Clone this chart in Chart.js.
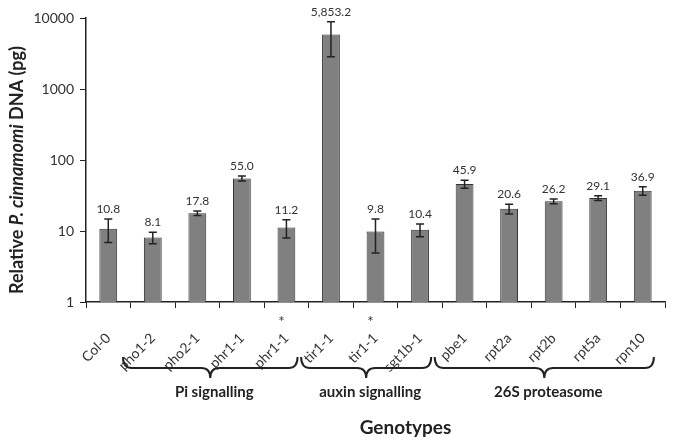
<!DOCTYPE html>
<html>
<head>
<meta charset="utf-8">
<script src="https://cdn.jsdelivr.net/npm/chart.js@4.4.0/dist/chart.umd.min.js"></script>
<style>
  html, body { margin: 0; background: #fff; }
</style>
</head>
<body>
<canvas id="myChart" width="685" height="444"></canvas>
<script>
// data
const genotypes = ['Col-0', 'pho1-2', 'pho2-1', 'phr1-1', 'phr1-1', 'tir1-1', 'tir1-1', 'sgt1b-1', 'pbe1', 'rpt2a', 'rpt2b', 'rpt5a', 'rpn10']
const starred = [false, false, false, false, true, false, true, false, false, false, false, false, false]
const dnaMean = [10.8, 8.1, 17.8, 55.0, 11.2, 5853.2, 9.8, 10.4, 45.9, 20.6, 26.2, 29.1, 36.9]
const dnaErr = [3.9, 1.5, 1.3, 4.5, 3.2, 3000, 4.9, 2.1, 6, 3.3, 2, 2.2, 5]
const yTicks = [1, 10, 100, 1000, 10000]
const groupNames = ['Pi signalling', 'auxin signalling', '26S proteasome']
const groupFirst = [1, 5, 8]
const groupLast = [4, 7, 12]

const FONT = 'Lato, "Open Sans", sans-serif'
const INK = '#222'

function fmt(v) {
  return v.toLocaleString('en-US', { minimumFractionDigits: 1, maximumFractionDigits: 1 })
}

// error bars + value labels
const errorBars = {
  id: 'errorBars',
  afterDatasetsDraw(chart) {
    const { ctx, scales: { y } } = chart
    const meta = chart.getDatasetMeta(0)
    ctx.save()
    ctx.strokeStyle = INK
    ctx.lineWidth = 1.5
    meta.data.forEach((bar, i) => {
      const top = y.getPixelForValue(dnaMean[i] + dnaErr[i])
      const bot = y.getPixelForValue(Math.max(dnaMean[i] - dnaErr[i], 1))
      ctx.beginPath()
      ctx.moveTo(bar.x, top); ctx.lineTo(bar.x, bot)
      ctx.moveTo(bar.x - 4, top); ctx.lineTo(bar.x + 4, top)
      ctx.moveTo(bar.x - 4, bot); ctx.lineTo(bar.x + 4, bot)
      ctx.stroke()
      ctx.fillStyle = '#333'
      ctx.font = '12px ' + FONT
      ctx.textAlign = 'center'
      ctx.textBaseline = 'bottom'
      ctx.fillText(fmt(dnaMean[i]), bar.x, top - 4)
    })
    ctx.restore()
  }
}

// braces, group names, asterisks and axis titles
const annotations = {
  id: 'annotations',
  afterDraw(chart) {
    const { ctx, chartArea, scales: { x } } = chart
    const b = chartArea.bottom
    const w = x.getPixelForValue(1) - x.getPixelForValue(0)
    ctx.save()

    // asterisks
    ctx.fillStyle = '#333'
    ctx.font = '15px ' + FONT
    ctx.textAlign = 'center'
    ctx.textBaseline = 'middle'
    starred.forEach((s, i) => {
      if (s) ctx.fillText('*', x.getPixelForValue(i) - 5, b + 20)
    })

    // braces
    ctx.strokeStyle = INK
    ctx.lineWidth = 2
    const y0 = b + 55, y1 = b + 66, y2 = b + 76, r = 9
    groupNames.forEach((name, g) => {
      const xl = x.getPixelForValue(groupFirst[g]) - 0.67 * w
      const xr = x.getPixelForValue(groupLast[g]) + 0.25 * w
      const xm = (xl + xr) / 2
      ctx.beginPath()
      ctx.moveTo(xl, y0)
      ctx.quadraticCurveTo(xl, y1, xl + r, y1)
      ctx.lineTo(xm - r, y1)
      ctx.quadraticCurveTo(xm, y1, xm, y2)
      ctx.quadraticCurveTo(xm, y1, xm + r, y1)
      ctx.lineTo(xr - r, y1)
      ctx.quadraticCurveTo(xr, y1, xr, y0)
      ctx.stroke()
      ctx.fillStyle = INK
      ctx.font = 'bold 15px ' + FONT
      ctx.fillText(name, xm + 4, b + 90)
    })

    // x title
    ctx.font = 'bold 19px ' + FONT
    ctx.fillText('Genotypes', (chartArea.left + chartArea.right) / 2 + 30, b + 126)

    // y title with italic species name
    const parts = [['Relative ', 'bold'], ['P. cinnamomi', 'italic bold'], [' DNA (pg)', 'bold']]
    ctx.translate(17, (chartArea.top + chartArea.bottom) / 2 + 10)
    ctx.rotate(-Math.PI / 2)
    let total = 0
    parts.forEach(p => { ctx.font = p[1] + ' 18px ' + FONT; total += ctx.measureText(p[0]).width })
    let cx = -total / 2
    ctx.textAlign = 'left'
    parts.forEach(p => {
      ctx.font = p[1] + ' 18px ' + FONT
      ctx.fillText(p[0], cx, 0)
      cx += ctx.measureText(p[0]).width
    })
    ctx.restore()
  }
}

const ctx = document.getElementById('myChart')
// eslint-disable-next-line no-unused-vars
const myChart = new Chart(ctx, {
  type: 'bar',
  data: {
    labels: genotypes,
    datasets: [{
      data: dnaMean,
      backgroundColor: '#808080',
      borderColor: '#333',
      borderWidth: 1,
      barPercentage: 0.4,
      categoryPercentage: 1
    }]
  },
  options: {
    responsive: false,
    animation: false,
    layout: { padding: { top: 18, right: 20, left: 0, bottom: 0 } },
    plugins: {
      legend: { display: false },
      tooltip: { enabled: false }
    },
    scales: {
      x: {
        afterFit(scale) { scale.height = 142 },
        grid: { offset: true, drawOnChartArea: false, tickLength: 6, color: INK },
        border: { color: INK, width: 1.5 },
        ticks: {
          color: '#333',
          font: { family: FONT, size: 14 },
          minRotation: 45,
          maxRotation: 45,
          padding: 22
        }
      },
      y: {
        type: 'logarithmic',
        min: 1,
        max: 10000,
        afterFit(scale) { scale.width = 86 },
        afterBuildTicks(scale) { scale.ticks = yTicks.map(v => ({ value: v })) },
        grid: { drawOnChartArea: false, tickLength: 6, color: INK },
        border: { color: INK, width: 1.5 },
        ticks: {
          color: '#333',
          font: { family: FONT, size: 14 },
          padding: 6,
          callback: v => String(v)
        }
      }
    }
  },
  plugins: [errorBars, annotations]
})
</script>
</body>
</html>
